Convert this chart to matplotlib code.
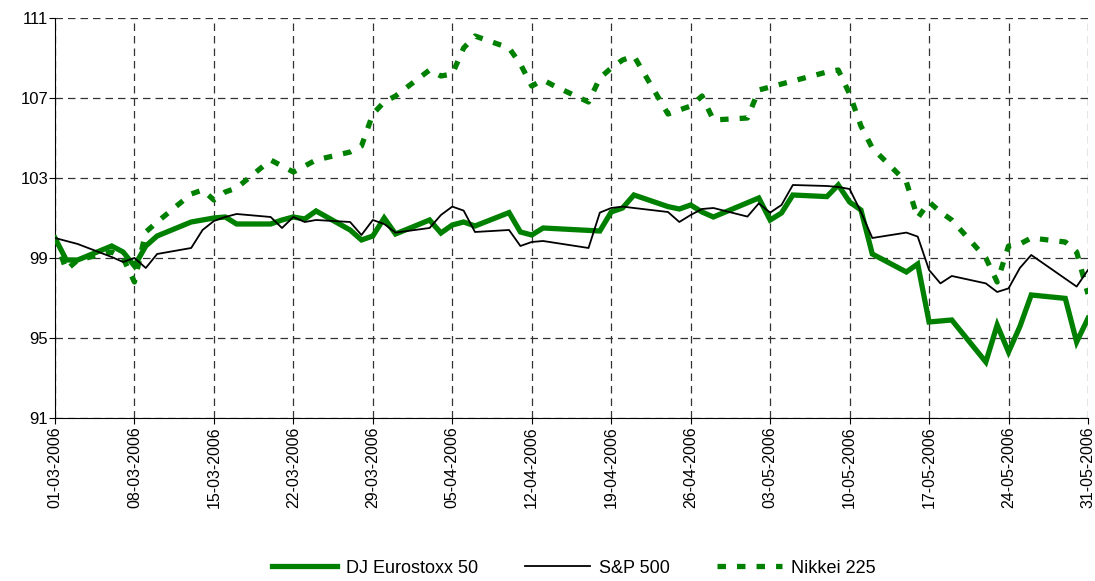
import matplotlib
matplotlib.use("Agg")
import matplotlib.pyplot as plt
import matplotlib.dates as mdates
import pandas as pd

plt.rcParams['font.family'] = ['Liberation Sans', 'DejaVu Sans']

# DJ Eurostoxx 50
stoxx_dates = [
    "2006-03-01", "2006-03-02", "2006-03-03", "2006-03-06", "2006-03-07", "2006-03-08", "2006-03-09",
    "2006-03-10", "2006-03-13", "2006-03-14", "2006-03-15", "2006-03-16", "2006-03-17", "2006-03-20",
    "2006-03-21", "2006-03-22", "2006-03-23", "2006-03-24", "2006-03-27", "2006-03-28", "2006-03-29",
    "2006-03-30", "2006-03-31", "2006-04-03", "2006-04-04", "2006-04-05", "2006-04-06", "2006-04-07",
    "2006-04-10", "2006-04-11", "2006-04-12", "2006-04-13", "2006-04-18", "2006-04-19", "2006-04-20",
    "2006-04-21", "2006-04-24", "2006-04-25", "2006-04-26", "2006-04-27", "2006-04-28", "2006-05-02",
    "2006-05-03", "2006-05-04", "2006-05-05", "2006-05-08", "2006-05-09", "2006-05-10", "2006-05-11",
    "2006-05-12", "2006-05-15", "2006-05-16", "2006-05-17", "2006-05-18", "2006-05-19", "2006-05-22",
    "2006-05-23", "2006-05-24", "2006-05-25", "2006-05-26", "2006-05-29", "2006-05-30", "2006-05-31",
]
stoxx = [
    100.0, 98.9, 98.9, 99.6, 99.3, 98.6, 99.6,
    100.1, 100.8, 100.9, 101.0, 101.05, 100.7, 100.7,
    100.9, 101.05, 100.95, 101.35, 100.4, 99.9, 100.1,
    101.0, 100.2, 100.9, 100.25, 100.65, 100.8, 100.6,
    101.27, 100.3, 100.15, 100.5, 100.35, 101.3, 101.5,
    102.15, 101.57, 101.45, 101.65, 101.3, 101.05, 102.0,
    100.9, 101.25, 102.15, 102.07, 102.65, 101.8, 101.4,
    99.2, 98.3, 98.7, 95.8, 95.85, 95.9, 93.8,
    95.65, 94.3, 95.57, 97.15, 96.98, 94.8, 95.98,
]

# S&P 500
sp_dates = [
    "2006-03-01", "2006-03-02", "2006-03-03", "2006-03-06", "2006-03-07", "2006-03-08", "2006-03-09",
    "2006-03-10", "2006-03-13", "2006-03-14", "2006-03-15", "2006-03-16", "2006-03-17", "2006-03-20",
    "2006-03-21", "2006-03-22", "2006-03-23", "2006-03-24", "2006-03-27", "2006-03-28", "2006-03-29",
    "2006-03-30", "2006-03-31", "2006-04-03", "2006-04-04", "2006-04-05", "2006-04-06", "2006-04-07",
    "2006-04-10", "2006-04-11", "2006-04-12", "2006-04-13", "2006-04-17", "2006-04-18", "2006-04-19",
    "2006-04-20", "2006-04-21", "2006-04-24", "2006-04-25", "2006-04-26", "2006-04-27", "2006-04-28",
    "2006-05-01", "2006-05-02", "2006-05-03", "2006-05-04", "2006-05-05", "2006-05-08", "2006-05-09",
    "2006-05-10", "2006-05-11", "2006-05-12", "2006-05-15", "2006-05-16", "2006-05-17", "2006-05-18",
    "2006-05-19", "2006-05-22", "2006-05-23", "2006-05-24", "2006-05-25", "2006-05-26", "2006-05-30",
    "2006-05-31",
]
sp500 = [
    100.0, 99.85, 99.7, 99.05, 98.8, 99.0, 98.5,
    99.2, 99.5, 100.4, 100.85, 101.05, 101.2, 101.05,
    100.5, 101.05, 100.8, 100.9, 100.8, 100.15, 100.9,
    100.7, 100.27, 100.5, 101.15, 101.57, 101.37, 100.3,
    100.4, 99.6, 99.8, 99.85, 99.5, 101.27, 101.5,
    101.57, 101.5, 101.3, 100.8, 101.15, 101.45, 101.5,
    101.07, 101.73, 101.27, 101.65, 102.65, 102.6, 102.55,
    102.45, 101.3, 100.0, 100.27, 100.07, 98.4, 97.73,
    98.1, 97.73, 97.3, 97.48, 98.5, 99.15, 97.57,
    98.4,
]

# Nikkei 225
nikkei_dates = [
    "2006-03-01", "2006-03-02", "2006-03-03", "2006-03-06", "2006-03-07", "2006-03-08", "2006-03-09",
    "2006-03-10", "2006-03-13", "2006-03-14", "2006-03-15", "2006-03-16", "2006-03-17", "2006-03-20",
    "2006-03-22", "2006-03-23", "2006-03-24", "2006-03-27", "2006-03-28", "2006-03-29", "2006-03-30",
    "2006-03-31", "2006-04-03", "2006-04-04", "2006-04-05", "2006-04-06", "2006-04-07", "2006-04-10",
    "2006-04-11", "2006-04-12", "2006-04-13", "2006-04-14", "2006-04-17", "2006-04-18", "2006-04-19",
    "2006-04-20", "2006-04-21", "2006-04-24", "2006-04-25", "2006-04-26", "2006-04-27", "2006-04-28",
    "2006-05-01", "2006-05-02", "2006-05-08", "2006-05-09", "2006-05-10", "2006-05-11", "2006-05-12",
    "2006-05-15", "2006-05-16", "2006-05-17", "2006-05-18", "2006-05-19", "2006-05-22", "2006-05-23",
    "2006-05-24", "2006-05-25", "2006-05-26", "2006-05-29", "2006-05-30", "2006-05-31",
]
nikkei = [
    100.0, 98.4, 98.9, 99.3, 99.0, 97.8, 100.3,
    100.8, 102.2, 102.4, 101.9, 102.3, 102.5, 103.9,
    103.3, 103.6, 103.9, 104.3, 104.6, 106.2, 106.8,
    107.1, 108.4, 108.1, 108.2, 109.5, 110.1, 109.5,
    108.7, 107.6, 107.9, 107.6, 106.8, 108.0, 108.5,
    108.9, 109.1, 106.2, 106.4, 106.6, 107.1, 105.9,
    106.0, 107.4, 108.3, 108.4, 107.2, 105.6, 104.5,
    102.8, 101.0, 101.8, 101.3, 100.9, 99.0, 97.8,
    99.6, 99.7, 100.0, 99.8, 99.3, 97.2,
]

green = "#008000"

fig = plt.figure(figsize=(10.95, 5.81), dpi=100)
ax = fig.add_axes([0.0502, 0.2806, 0.9434, 0.6884])

ax.plot(pd.to_datetime(stoxx_dates), stoxx, color=green, lw=3.8,
        solid_joinstyle="miter", label="DJ Eurostoxx 50", zorder=3)
ax.plot(pd.to_datetime(sp_dates), sp500, color="black", lw=1.3,
        label="S&P 500", zorder=4)
ax.plot(pd.to_datetime(nikkei_dates), nikkei, color=green, lw=3.8,
        linestyle=(0, (1.6, 2.1)), label="Nikkei 225", zorder=2)

ax.set_xlim(pd.Timestamp("2006-03-01"), pd.Timestamp("2006-05-31"))
ax.set_ylim(91, 111)
ax.set_yticks([91, 95, 99, 103, 107, 111])
ax.set_xticks(pd.date_range("2006-03-01", "2006-05-31", freq="7D"))
ax.xaxis.set_major_formatter(mdates.DateFormatter("%d-%m-%Y"))
ax.tick_params(axis="x", labelrotation=90, labelsize=11.5, length=4, pad=2)
ax.tick_params(axis="y", labelsize=12, length=4, pad=1)

ax.grid(True, color="#333333", linestyle=(0, (6, 4)), linewidth=0.9)
ax.set_axisbelow(True)
for s in ["top", "right"]:
    ax.spines[s].set_visible(False)

fig.legend(loc="center", bbox_to_anchor=(0.524, 0.022), ncol=3, frameon=False,
           fontsize=13, handlelength=3.6, handletextpad=0.5, columnspacing=2.6)

fig.savefig("out.png", dpi=100)
